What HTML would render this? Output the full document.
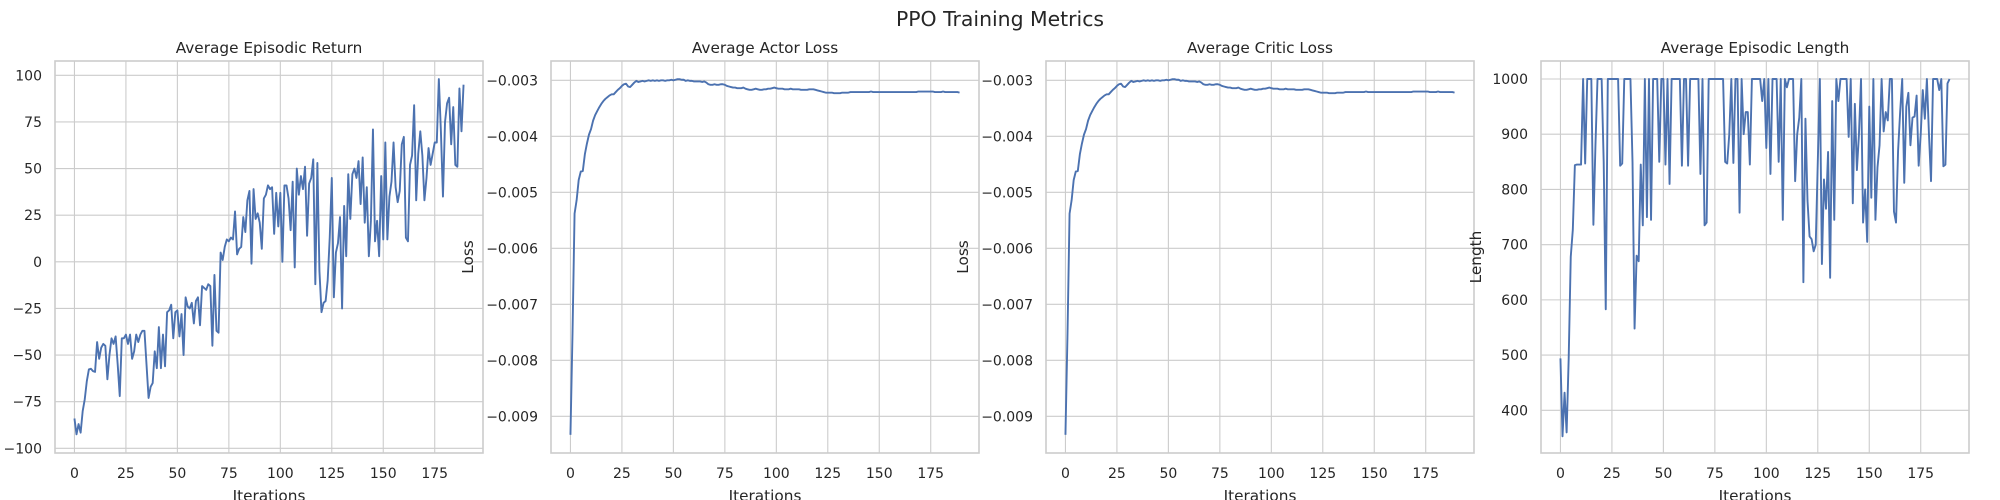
<!DOCTYPE html>
<html><head><meta charset="utf-8">
<style>
html,body{margin:0;padding:0;background:#fff;overflow:hidden;}
svg{display:block;}
text{font-family:"DejaVu Sans","Liberation Sans",sans-serif;fill:#262626;}
</style></head>
<body>
<svg id="fig" width="2000" height="500" viewBox="0 0 2000 500" xmlns="http://www.w3.org/2000/svg">
<rect width="2000" height="500" fill="#fff"/>
<text x="1000" y="26" text-anchor="middle" font-size="20.4">PPO Training Metrics</text>
</svg>
<script>
const iterTicks = [0,25,50,75,100,125,150,175];
const returnTicks = [-100,-75,-50,-25,0,25,50,75,100];
const lossTicks = [-0.009,-0.008,-0.007,-0.006,-0.005,-0.004,-0.003];
const lossTickLabels = ["\u22120.009","\u22120.008","\u22120.007","\u22120.006","\u22120.005","\u22120.004","\u22120.003"];
const lengthTicks = [400,500,600,700,800,900,1000];

const returnValues = [-84,-92.5,-87,-91.6,-80,-73.7,-64,-57.7,-57.3,-58.6,
-59,-43,-52,-46,-44,-45,-63,-50,-41,-44,
-40,-55,-72,-41,-41,-39,-44,-39,-52,-48,
-39,-43,-39,-37,-37,-55,-73,-67,-65,-48,
-57,-35,-57,-39,-56,-27,-26,-23,-41,-27,
-26,-40,-28,-50,-19,-24,-25,-22,-33,-21,
-19,-34,-13,-14,-15,-12,-13,-45,-7,-37,
-38,5,1,8,12,11,13,12,27,4,
7,8,24,16,33,38,-1,39,23,26,
21,7,34,36,41,39,40,15,37,19,
37,0,41,41,34,17,43,-3,50,36,
46,39,51,14,42,45,55,-12,53,-5,
-27,-22,-21,-10,13,45,-19,5,10,24,
-25,30,3,47,23,47,50,45,54,31,
56,21,40,3,22,71,11,22,3,46,
12,64,12,35,43,64,40,32,38,63,
67,13,11,52,57,84,33,58,70,57,
33,45,61,52,58,64,64,98,70,35,
75,85,88,63,83,52,51,93,70,95];

const actorValues = [-0.00933,-0.00752,-0.00538,-0.00514,-0.00478,-0.00463,-0.00462,-0.00432,-0.00413,-0.00397,
-0.00387,-0.00372,-0.00362,-0.00355,-0.00348,-0.00342,-0.00337,-0.00333,-0.00330,-0.00327,
-0.00325,-0.00325,-0.00321,-0.00317,-0.00314,-0.00310,-0.00307,-0.00306,-0.00311,-0.00312,
-0.00308,-0.00304,-0.00301,-0.00303,-0.00302,-0.00301,-0.00302,-0.00301,-0.00300,-0.00301,
-0.00300,-0.00301,-0.00300,-0.00301,-0.00300,-0.00300,-0.00301,-0.00300,-0.00300,-0.00299,
-0.00300,-0.00299,-0.00298,-0.00298,-0.00299,-0.00299,-0.00301,-0.00300,-0.00301,-0.00301,
-0.00302,-0.00302,-0.00302,-0.00302,-0.00303,-0.00302,-0.00304,-0.00307,-0.00308,-0.00308,
-0.00307,-0.00308,-0.00308,-0.00307,-0.00307,-0.00308,-0.00310,-0.00311,-0.00312,-0.00313,
-0.00313,-0.00314,-0.00314,-0.00314,-0.00313,-0.00315,-0.00316,-0.00317,-0.00317,-0.00316,
-0.00315,-0.00316,-0.00317,-0.00317,-0.00316,-0.00316,-0.00315,-0.00315,-0.00314,-0.00313,
-0.00314,-0.00315,-0.00315,-0.00315,-0.00316,-0.00316,-0.00316,-0.00315,-0.00316,-0.00316,
-0.00316,-0.00316,-0.00317,-0.00317,-0.00317,-0.00317,-0.00316,-0.00316,-0.00316,-0.00317,
-0.00318,-0.00319,-0.00320,-0.00321,-0.00322,-0.00322,-0.00322,-0.00322,-0.00323,-0.00323,
-0.00323,-0.00323,-0.00322,-0.00322,-0.00322,-0.00322,-0.00321,-0.00321,-0.00321,-0.00321,
-0.00321,-0.00321,-0.00321,-0.00321,-0.00321,-0.00321,-0.00320,-0.00321,-0.00321,-0.00321,
-0.00321,-0.00321,-0.00321,-0.00321,-0.00321,-0.00321,-0.00321,-0.00321,-0.00321,-0.00321,
-0.00321,-0.00321,-0.00321,-0.00321,-0.00321,-0.00321,-0.00321,-0.00321,-0.00321,-0.00320,
-0.00320,-0.00320,-0.00320,-0.00320,-0.00320,-0.00320,-0.00320,-0.00321,-0.00321,-0.00321,
-0.00321,-0.00320,-0.00321,-0.00321,-0.00321,-0.00321,-0.00321,-0.00321,-0.00321,-0.00322];

const criticValues = [-0.00933,-0.00752,-0.00538,-0.00514,-0.00478,-0.00463,-0.00462,-0.00432,-0.00413,-0.00397,
-0.00387,-0.00372,-0.00362,-0.00355,-0.00348,-0.00342,-0.00337,-0.00333,-0.00330,-0.00327,
-0.00325,-0.00325,-0.00321,-0.00317,-0.00314,-0.00310,-0.00307,-0.00306,-0.00311,-0.00312,
-0.00308,-0.00304,-0.00301,-0.00303,-0.00302,-0.00301,-0.00302,-0.00301,-0.00300,-0.00301,
-0.00300,-0.00301,-0.00300,-0.00301,-0.00300,-0.00300,-0.00301,-0.00300,-0.00300,-0.00299,
-0.00300,-0.00299,-0.00298,-0.00298,-0.00299,-0.00299,-0.00301,-0.00300,-0.00301,-0.00301,
-0.00302,-0.00302,-0.00302,-0.00302,-0.00303,-0.00302,-0.00304,-0.00307,-0.00308,-0.00308,
-0.00307,-0.00308,-0.00308,-0.00307,-0.00307,-0.00308,-0.00310,-0.00311,-0.00312,-0.00313,
-0.00313,-0.00314,-0.00314,-0.00314,-0.00313,-0.00315,-0.00316,-0.00317,-0.00317,-0.00316,
-0.00315,-0.00316,-0.00317,-0.00317,-0.00316,-0.00316,-0.00315,-0.00315,-0.00314,-0.00313,
-0.00314,-0.00315,-0.00315,-0.00315,-0.00316,-0.00316,-0.00316,-0.00315,-0.00316,-0.00316,
-0.00316,-0.00316,-0.00317,-0.00317,-0.00317,-0.00317,-0.00316,-0.00316,-0.00316,-0.00317,
-0.00318,-0.00319,-0.00320,-0.00321,-0.00322,-0.00322,-0.00322,-0.00322,-0.00323,-0.00323,
-0.00323,-0.00323,-0.00322,-0.00322,-0.00322,-0.00322,-0.00321,-0.00321,-0.00321,-0.00321,
-0.00321,-0.00321,-0.00321,-0.00321,-0.00321,-0.00321,-0.00320,-0.00321,-0.00321,-0.00321,
-0.00321,-0.00321,-0.00321,-0.00321,-0.00321,-0.00321,-0.00321,-0.00321,-0.00321,-0.00321,
-0.00321,-0.00321,-0.00321,-0.00321,-0.00321,-0.00321,-0.00321,-0.00321,-0.00321,-0.00320,
-0.00320,-0.00320,-0.00320,-0.00320,-0.00320,-0.00320,-0.00320,-0.00321,-0.00321,-0.00321,
-0.00321,-0.00320,-0.00321,-0.00321,-0.00321,-0.00321,-0.00321,-0.00321,-0.00321,-0.00322];

const lengthValues = [494,353,432,360,494,678,727,844,845,845,
845,1000,847,1000,1000,1000,736,880,1000,1000,
1000,850,583,1000,1000,1000,1000,1000,1000,843,
847,1000,1000,1000,1000,850,548,680,670,845,
735,1000,750,1000,745,1000,1000,1000,850,1000,
1000,845,1000,810,1000,1000,1000,1000,1000,843,
1000,1000,843,1000,1000,1000,1000,1000,828,1000,
735,740,1000,1000,1000,1000,1000,1000,1000,1000,
850,847,900,1000,848,1000,1000,758,1000,900,
940,940,845,1000,1000,1000,1000,1000,960,1000,
875,1000,828,1000,1000,1000,850,1000,745,1000,
985,1000,1000,1000,815,900,930,1000,632,928,
780,715,710,688,700,850,1000,665,818,765,
868,640,960,745,1000,960,1000,1000,1000,1000,
895,1000,775,955,835,900,1000,740,800,705,
950,785,1000,745,840,880,1000,905,940,925,
1000,1000,760,740,870,940,1000,812,950,975,
880,930,932,970,843,900,980,928,1000,900,
815,1000,1000,1000,980,1000,842,845,992,1000];

const NS = "http://www.w3.org/2000/svg";
const svg = document.getElementById('fig');
function mk(tag, attrs, parent){
  const e = document.createElementNS(NS, tag);
  for (const k in attrs) e.setAttribute(k, attrs[k]);
  (parent||svg).appendChild(e);
  return e;
}
const TOP = 61, BOT = 453, W = 428;

function panel(key, left, title, values, yMin, yMax, yTicks, yLabels, ylabel, ylabelOffset){
  const g = mk('g', {});
  
  
  const xMin = -9.45, xMax = values.length - 1 + 9.45;
  const sx = v => left + (v - xMin) / (xMax - xMin) * W;
  const sy = v => BOT - (v - yMin) / (yMax - yMin) * (BOT - TOP);
  const bg = mk('rect', {x:left, y:TOP, width:W, height:BOT-TOP, fill:'#fff'}, g);
  
  
  iterTicks.forEach(t => {
    const x = sx(t);
    const l = mk('line', {x1:x, x2:x, y1:TOP, y2:BOT, stroke:'#cccccc', 'stroke-width':1.1}, g);
    
    
    const tx = mk('text', {x:x, y:478, 'text-anchor':'middle', 'font-size':14}, g);
    
    
    tx.textContent = String(t);
  });
  yTicks.forEach((t, i) => {
    const y = sy(t);
    const l = mk('line', {x1:left, x2:left+W, y1:y, y2:y, stroke:'#cccccc', 'stroke-width':1.1}, g);
    
    
    const tx = mk('text', {x:left-13, y:y+5, 'text-anchor':'end', 'font-size':14}, g);
    
    
    tx.textContent = yLabels[i];
  });
  const pts = values.map((v, i) => sx(i).toFixed(2) + ',' + sy(v).toFixed(2)).join(' ');
  const pl = mk('polyline', {points:pts, fill:'none', stroke:'#4c72b0', 'stroke-width':1.9, 'stroke-linejoin':'round'}, g);
  
  
  const fr = mk('rect', {x:left, y:TOP, width:W, height:BOT-TOP, fill:'none', stroke:'#cccccc', 'stroke-width':1.6}, g);
  
  
  const tt = mk('text', {x:left+W/2, y:53, 'text-anchor':'middle', 'font-size':15.3}, g);
  
  
  tt.textContent = title;
  const xl = mk('text', {x:left+W/2, y:501, 'text-anchor':'middle', 'font-size':15.3}, g);
  
  
  xl.textContent = 'Iterations';
  if (ylabel){
    const cx = left - ylabelOffset, cy = (TOP+BOT)/2;
    const yl = mk('text', {x:cx, y:cy, 'text-anchor':'middle', 'font-size':15.3, transform:'rotate(-90 '+cx+' '+cy+')'});
    
    
    yl.textContent = ylabel;
  }
}
panel('return', 55, 'Average Episodic Return', returnValues, -102.5, 107.7, returnTicks, returnTicks.map(t => String(t).replace('-', '\u2212')), null, 0);
panel('actor-loss', 551, 'Average Actor Loss', actorValues, -0.009655, -0.002655, lossTicks, lossTickLabels, 'Loss', 78);
panel('critic-loss', 1046, 'Average Critic Loss', criticValues, -0.009655, -0.002655, lossTicks, lossTickLabels, 'Loss', 78);
panel('length', 1541, 'Average Episodic Length', lengthValues, 322.7, 1032.6, lengthTicks, lengthTicks.map(String), 'Length', 60);
</script>
</body></html>
